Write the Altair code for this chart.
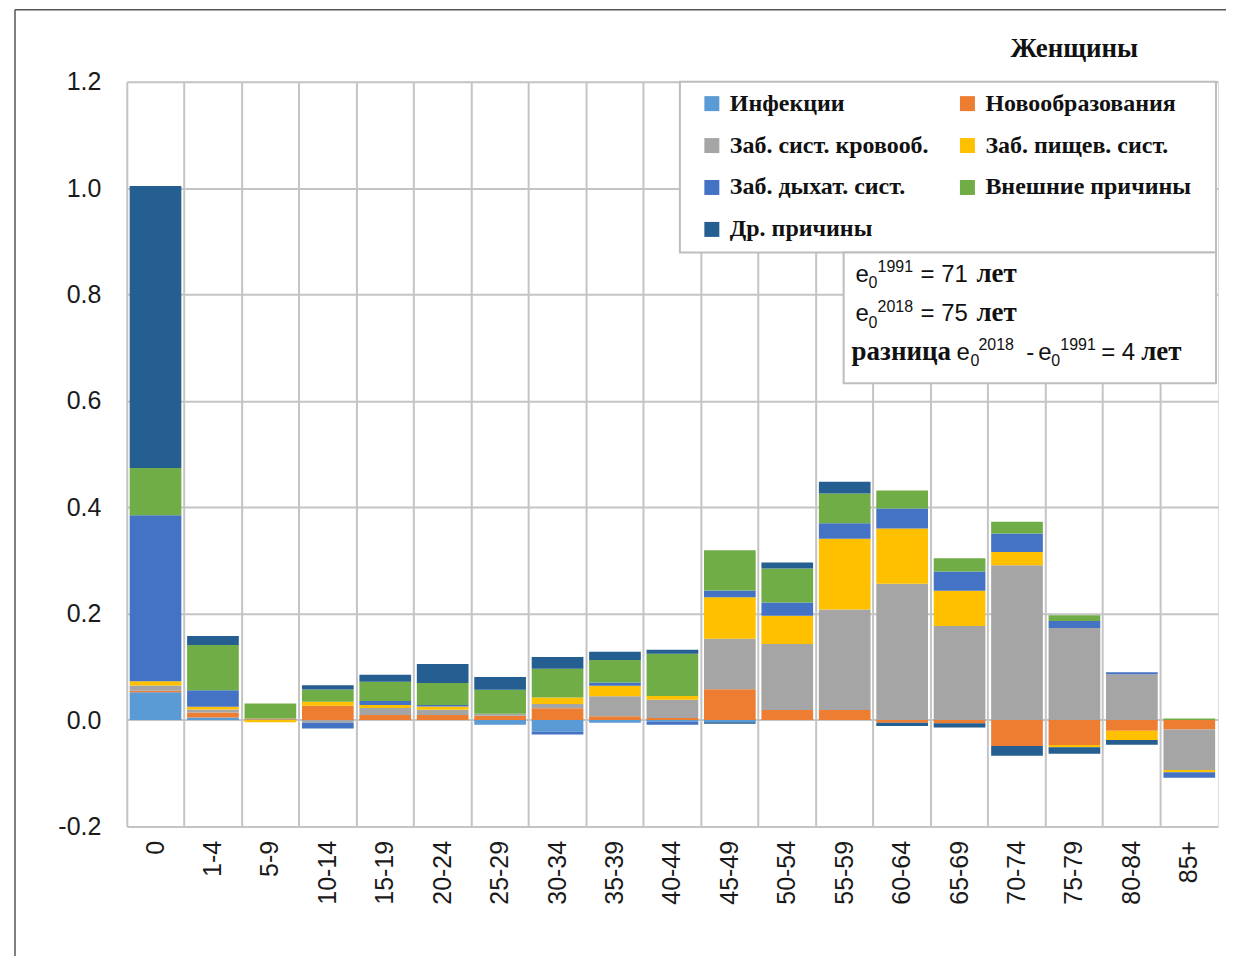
import altair as alt
import pandas as pd

ages = ["0", "1-4", "5-9", "10-14", "15-19", "20-24", "25-29", "30-34", "35-39",
        "40-44", "45-49", "50-54", "55-59", "60-64", "65-69", "70-74", "75-79",
        "80-84", "85+"]

series = ["Инфекции", "Новообразования", "Заб. сист. кровооб.", "Заб. пищев. сист.",
          "Заб. дыхат. сист.", "Внешние причины", "Др. причины"]
colors = ["#5B9BD5", "#ED7D31", "#A5A5A5", "#FFC000", "#4472C4", "#70AD47", "#255E91"]

infections = [0.052, 0.005, 0.001, 0.0, 0.0, 0.0, -0.009, -0.022, -0.005, -0.003,
              -0.004, 0.0, 0.0, 0.0, 0.0, 0.0, 0.0, 0.0, 0.0]
neoplasms = [0.003, 0.009, 0.002, 0.027, 0.0095, 0.0095, 0.008, 0.022, 0.007, 0.004,
             0.058, 0.019, 0.019, -0.005, -0.006, -0.049, -0.047, -0.020, -0.018]
circulatory = [0.010, 0.006, 0.0, -0.005, 0.013, 0.010, 0.004, 0.008, 0.0375, 0.034,
               0.095, 0.124, 0.189, 0.256, 0.177, 0.291, 0.173, 0.086, -0.076]
digestive = [0.008, 0.005, -0.004, 0.0075, 0.006, 0.006, 0.0, 0.0125, 0.020, 0.007,
             0.078, 0.053, 0.133, 0.104, 0.066, 0.025, -0.004, -0.0175, -0.004]
respiratory = [0.312, 0.031, 0.0, -0.011, 0.0075, 0.003, 0.0, -0.005, 0.006, -0.006,
               0.0125, 0.025, 0.029, 0.0375, 0.036, 0.0345, 0.013, 0.004, -0.0105]
external = [0.089, 0.085, 0.028, 0.023, 0.036, 0.041, 0.045, 0.054, 0.0425, 0.0795,
            0.0756, 0.064, 0.056, 0.034, 0.025, 0.022, 0.011, 0.0, 0.003]
other = [0.530, 0.017, 0.0, 0.008, 0.013, 0.036, 0.024, 0.022, 0.0155, 0.0075,
         -0.003, 0.011, 0.022, -0.006, -0.008, -0.018, -0.0125, -0.009, 0.0]

y_ticks = [-0.2, 0.0, 0.2, 0.4, 0.6, 0.8, 1.0, 1.2]

all_vals = [infections, neoplasms, circulatory, digestive, respiratory, external, other]
rows = []
for si, (name, vals) in enumerate(zip(series, all_vals)):
    for age, v in zip(ages, vals):
        rows.append({"age": age, "series": name, "idx": si, "value": v})
df = pd.DataFrame(rows)

SANS = "Liberation Sans"
SERIF = "Liberation Serif"
GRID = "#c4c4c4"

bars = alt.Chart(df).mark_bar(width={"band": 0.9}).encode(
    x=alt.X("age:N", sort=ages, title=None,
            scale=alt.Scale(paddingInner=0, paddingOuter=0),
            axis=alt.Axis(grid=True, bandPosition=0, ticks=False, domain=False,
                          labelAngle=-90, labelFontSize=25, labelFont=SANS,
                          labelColor="#1a1a1a", labelPadding=14,
                          gridColor=GRID, gridWidth=2)),
    y=alt.Y("value:Q", stack="zero", title=None,
            scale=alt.Scale(domain=[-0.2, 1.2], nice=False, zero=False),
            axis=alt.Axis(values=y_ticks, format=".1f",
                          labelExpr="replace(datum.label, '\u2212', '-')",
                          grid=True, ticks=False,
                          domain=False, labelFontSize=25, labelFont=SANS,
                          labelColor="#1a1a1a", labelPadding=26,
                          gridColor=GRID, gridWidth=2)),
    color=alt.Color("series:N", sort=series,
                    scale=alt.Scale(domain=series, range=colors),
                    legend=alt.Legend(title=None, orient="none", legendX=574, legendY=10,
                                      columns=2, direction="horizontal",
                                      columnPadding=26, rowPadding=18,
                                      symbolType="square", symbolSize=225,
                                      symbolStrokeWidth=0, labelOffset=6,
                                      labelLimit=400,
                                      labelFont=SERIF, labelFontSize=24,
                                      labelFontWeight="bold", labelColor="#111",
                                      padding=0, zindex=2)),
    order=alt.Order("idx:Q", sort="ascending"),
)


def one():
    return alt.Chart(pd.DataFrame({"a": [0]}))


def box(x1, x2, y1, y2):
    return one().mark_rect(fill="white", stroke="#bdbdbd", strokeWidth=2).encode(
        x=alt.value(x1), x2=alt.value(x2), y=alt.value(y1), y2=alt.value(y2))


def txt(s, x, y, size, font, weight="normal", align="left"):
    return one().mark_text(text=s, align=align, baseline="alphabetic", fontSize=size,
                           font=font, fontWeight=weight, color="#111").encode(
        x=alt.value(x), y=alt.value(y))


legend_box = box(554, 1091, 0, 171)
note_box = box(718, 1091, 171, 302)

texts = [
    txt("Женщины", 949, -25, 27, SERIF, "bold", "center"),
    # line 1
    txt("e", 730, 201, 24, SANS), txt("0", 743, 207, 16, SANS),
    txt("1991", 752, 191, 16, SANS), txt("= 71", 795, 201, 24, SANS),
    txt("лет", 851, 201, 27, SERIF, "bold"),
    # line 2
    txt("e", 730, 240, 24, SANS), txt("0", 743, 247, 16, SANS),
    txt("2018", 752, 231, 16, SANS), txt("= 75", 795, 240, 24, SANS),
    txt("лет", 851, 240, 27, SERIF, "bold"),
    # line 3
    txt("разница", 726, 279, 27, SERIF, "bold"),
    txt("e", 831, 279, 24, SANS), txt("0", 845, 285, 16, SANS),
    txt("2018", 853, 269, 16, SANS), txt("-", 901, 279, 24, SANS),
    txt("e", 913, 279, 24, SANS), txt("0", 926, 285, 16, SANS),
    txt("1991", 935, 269, 16, SANS), txt("= 4", 976, 279, 24, SANS),
    txt("лет", 1016, 279, 27, SERIF, "bold"),
]

frame_top = one().mark_rule(color="#555", strokeWidth=1.5).encode(
    x=alt.value(-112), x2=alt.value(1107), y=alt.value(-72))
frame_left = one().mark_rule(color="#555", strokeWidth=1.5).encode(
    x=alt.value(-112), y=alt.value(-72), y2=alt.value(885))

chart = alt.layer(bars, legend_box, note_box, *texts, frame_top, frame_left).properties(
    width=1093, height=746,
    autosize=alt.AutoSizeParams(type="none"),
    padding={"left": 119, "top": 73, "right": 8, "bottom": 129},
).configure_view(stroke="#bdbdbd", strokeWidth=2).configure(background="white")

chart.save("out.html", embed_options={"renderer": "svg", "actions": False})
